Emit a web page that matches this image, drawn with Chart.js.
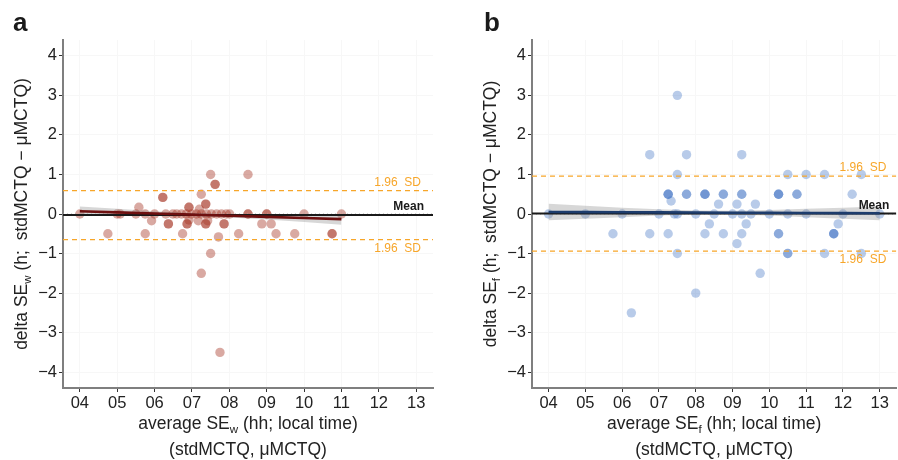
<!DOCTYPE html>
<html>
<head>
<meta charset="utf-8">
<script src="https://cdn.jsdelivr.net/npm/chart.js@4.4.1/dist/chart.umd.min.js"></script>
<style>
    html, body { margin: 0; padding: 0; background: #fff; overflow: hidden; width: 898px; height: 460px; }
    .panel { position: absolute; top: 0; height: 460px; }
    #panelA { left: 0; width: 449px; }
    #panelB { left: 449px; width: 452px; }
</style>
</head>
<body>
<div class="panel" id="panelA"><canvas id="chartA" width="449" height="460"></canvas></div>
<div class="panel" id="panelB"><canvas id="chartB" width="452" height="460"></canvas></div>
<script>
// Eksenler
const xTicks = [4, 5, 6, 7, 8, 9, 10, 11, 12, 13];
const yTicks = [-4, -3, -2, -1, 0, 1, 2, 3, 4];
const xLimits = [3.55, 13.45];
const yLimits = [-4.4, 4.4];

// a: is günleri (SEw)
const weekX = [4, 4.75, 5.0, 5.08, 5.5, 5.58, 5.75, 5.75, 5.92, 6.0, 6.22, 6.22, 6.3, 6.37, 6.37, 6.49, 6.59, 6.72,
    6.75, 6.85, 6.87, 6.87, 6.92, 6.92, 6.92, 6.99, 7.12, 7.17, 7.2, 7.25, 7.25, 7.25, 7.37, 7.37, 7.37, 7.37,
    7.39, 7.42, 7.5, 7.5, 7.52, 7.62, 7.62, 7.66, 7.71, 7.75, 7.79, 7.86, 7.86, 7.92, 8.01, 8.25, 8.5, 8.5, 8.5,
    8.87, 9.0, 9.0, 9.12, 9.25, 9.75, 10.0, 10.75, 10.75, 11.0];
const weekY = [0, -0.5, 0, 0, 0, 0.17, 0, -0.5, -0.17, 0, 0.42, 0.42, 0, -0.25, -0.25, 0, 0, 0,
    -0.5, 0, -0.25, -0.25, 0.17, 0.17, -0.15, 0, 0, -0.17, 0.12, 0, 0.5, -1.5, 0.25, 0.25, -0.25, -0.25,
    0, -0.17, 1, -1, 0, 0.75, 0.75, 0, -0.58, -3.5, 0, -0.25, -0.25, 0, 0, -0.5, 1, 0, 0,
    -0.25, 0, 0, -0.25, -0.5, -0.5, 0, -0.5, -0.5, 0];
const weekFitX = [4, 5, 6, 7, 8, 9, 10, 11];
const weekFitY = [0.07, 0.041, 0.013, -0.016, -0.044, -0.073, -0.101, -0.13];
const weekFitHi = [0.19, 0.13, 0.07, 0.025, -0.002, -0.01, -0.01, -0.01];
const weekFitLo = [-0.05, -0.045, -0.042, -0.055, -0.09, -0.14, -0.2, -0.27];
const weekMean = -0.025;
const weekSd = [0.59, -0.65];

// b: serbest günler (SEf)
const freeX = [4, 5, 5.75, 6, 6.25, 6.75, 6.75, 7, 7.25, 7.25, 7.25, 7.33, 7.25, 7.42, 7.5, 7.5, 7.5, 7.5,
    7.75, 7.75, 7.75, 8, 8, 8.25, 8.25, 8.25, 8.25, 8.37, 8.5, 8.62, 8.75, 8.75, 8.75, 9, 9.12, 9.12,
    9.25, 9.25, 9.25, 9.25, 9.25, 9.37, 9.5, 9.62, 9.75, 10, 10.25, 10.25, 10.25, 10.25, 10.25,
    10.5, 10.5, 10.5, 10.5, 10.75, 10.75, 11, 11, 11.5, 11.5, 11.75, 11.75, 11.75, 11.87, 12, 12.25,
    12.5, 12.5, 13];
const freeY = [0, 0, -0.5, 0, -2.5, 1.5, -0.5, 0, 0.5, 0.5, 0.5, 0.33, -0.5, 0, 3, 1, 0, -1,
    1.5, 0.5, 0.5, 0, -2, 0.5, 0.5, 0.5, -0.5, -0.25, 0, 0.25, 0.5, 0.5, -0.5, 0, 0.25, -0.75,
    1.5, 0.5, 0.5, 0, -0.5, -0.25, 0, 0.25, -1.5, 0, 0.5, 0.5, 0.5, -0.5, -0.5,
    1, 0, -1, -1, 0.5, 0.5, 1, 0, 1, -1, -0.5, -0.5, -0.5, -0.25, 0, 0.5,
    1, -1, 0];
const freeFitX = [4, 5, 6, 7, 8, 9, 10, 11, 12, 13];
const freeFitY = [0.05, 0.047, 0.043, 0.04, 0.037, 0.033, 0.03, 0.027, 0.023, 0.02];
const freeFitHi = [0.26, 0.21, 0.16, 0.12, 0.09, 0.085, 0.1, 0.13, 0.16, 0.19];
const freeFitLo = [-0.16, -0.12, -0.08, -0.04, -0.015, -0.02, -0.04, -0.08, -0.12, -0.16];
const freeMean = 0.01;
const freeSd = [0.96, -0.94];

const FONT = "'Liberation Sans', Arial, Helvetica, sans-serif";

document.addEventListener('DOMContentLoaded', function() {
    createPanel('chartA', {
        letter: 'a', letterX: 13, sub: 'w', yTitleX: 27,
        axisWidth: 63, padRight: 16,
        x: weekX, y: weekY, fitX: weekFitX, fitY: weekFitY, fitHi: weekFitHi, fitLo: weekFitLo,
        mean: weekMean, sd: weekSd,
        pointColor: 'rgba(164, 51, 33, 0.42)', lineColor: '#6e1010',
        sdInset: 12, meanInset: 9
    });
    createPanel('chartB', {
        letter: 'b', letterX: 35, sub: 'f', yTitleX: 47,
        axisWidth: 83, padRight: 0,
        x: freeX, y: freeY, fitX: freeFitX, fitY: freeFitY, fitHi: freeFitHi, fitLo: freeFitLo,
        mean: freeMean, sd: freeSd,
        pointColor: 'rgba(68, 118, 198, 0.38)', lineColor: '#1d3c6c',
        sdInset: 10, meanInset: 7
    });
});

function zip(xs, ys) {
    return xs.map((x, i) => ({ x: x, y: ys[i] }));
}

function flat(value) {
    return zip(xLimits, [value, value]);
}

function lineSet(data, color, width, dash, order) {
    return {
        data: data, showLine: true, pointRadius: 0, borderColor: color,
        borderWidth: width, borderDash: dash, fill: false, order: order
    };
}

function createPanel(id, p) {
    const ctx = document.getElementById(id).getContext('2d');
    const datasets = [
        {
            data: zip(p.x, p.y), pointRadius: 4.7, pointBackgroundColor: p.pointColor,
            pointBorderWidth: 0, showLine: false, order: 9
        },
        {
            data: zip(p.fitX, p.fitHi), showLine: true, pointRadius: 0, borderWidth: 0,
            fill: '+1', backgroundColor: 'rgba(150, 150, 150, 0.38)', order: 8
        },
        { data: zip(p.fitX, p.fitLo), showLine: true, pointRadius: 0, borderWidth: 0, fill: false, order: 8 },
        lineSet(flat(0), '#a8a8a8', 1, [1, 3], 6),
        lineSet(flat(p.mean), '#1a1a1a', 2, [], 5),
        lineSet(flat(p.sd[0]), '#f7a62a', 1.2, [5, 4], 4),
        lineSet(flat(p.sd[1]), '#f7a62a', 1.2, [5, 4], 4),
        lineSet(zip(p.fitX, p.fitY), p.lineColor, 2.6, [], 1)
    ];

    const tickFont = { family: FONT, size: 16.5 };

    new Chart(ctx, {
        type: 'scatter',
        data: { datasets: datasets },
        options: {
            responsive: false,
            animation: false,
            layout: { padding: { top: 40, right: p.padRight, left: 0, bottom: 0 } },
            plugins: { legend: { display: false }, tooltip: { enabled: false } },
            scales: {
                x: {
                    type: 'linear', min: xLimits[0], max: xLimits[1],
                    afterBuildTicks: s => { s.ticks = xTicks.map(v => ({ value: v })); },
                    afterFit: s => { s.height = 72; },
                    ticks: {
                        font: tickFont, color: '#222', padding: 2, maxRotation: 0, autoSkip: false,
                        callback: v => String(v).padStart(2, '0')
                    },
                    grid: { color: '#f7f7f7', tickColor: '#333', tickLength: 4, tickWidth: 1 },
                    border: { color: '#7f7f7f', width: 2 }
                },
                y: {
                    type: 'linear', min: yLimits[0], max: yLimits[1],
                    afterBuildTicks: s => { s.ticks = yTicks.map(v => ({ value: v })); },
                    afterFit: s => { s.width = p.axisWidth; },
                    ticks: {
                        font: tickFont, color: '#222', padding: 2, autoSkip: false,
                        callback: v => (v < 0 ? '\u2212' + Math.abs(v) : String(v))
                    },
                    grid: { color: '#f7f7f7', tickColor: '#333', tickLength: 4, tickWidth: 1 },
                    border: { color: '#7f7f7f', width: 2 }
                }
            }
        },
        plugins: [decorPlugin(p)]
    });
}

// Alt simgeli metin
function drawRichText(ctx, parts, cx, baseline, size) {
    let total = 0;
    parts.forEach(pt => {
        ctx.font = (pt.sub ? size * 0.66 : size) + 'px ' + FONT;
        pt.w = ctx.measureText(pt.t).width;
        total += pt.w;
    });
    let x = cx - total / 2;
    ctx.textAlign = 'left';
    ctx.textBaseline = 'alphabetic';
    parts.forEach(pt => {
        ctx.font = (pt.sub ? size * 0.66 : size) + 'px ' + FONT;
        ctx.fillText(pt.t, x, baseline + (pt.sub ? size * 0.2 : 0));
        x += pt.w;
    });
}

function decorPlugin(p) {
    return {
        id: 'decor',
        afterDraw(chart) {
            const ctx = chart.ctx;
            const area = chart.chartArea;
            const ys = chart.scales.y;
            const cx = (area.left + area.right) / 2;
            ctx.save();
            ctx.fillStyle = '#1a1a1a';

            // panel harfi
            ctx.font = 'bold 26px ' + FONT;
            ctx.textAlign = 'left';
            ctx.textBaseline = 'alphabetic';
            ctx.fillText(p.letter, p.letterX, 31);

            // eksen basliklari
            ctx.fillStyle = '#222';
            drawRichText(ctx, [{ t: 'average SE' }, { t: p.sub, sub: true }, { t: ' (hh; local time)' }], cx, 429, 17.5);
            drawRichText(ctx, [{ t: '(stdMCTQ, \u03bcMCTQ)' }], cx, 455, 17.5);

            ctx.save();
            ctx.translate(p.yTitleX, (area.top + area.bottom) / 2);
            ctx.rotate(-Math.PI / 2);
            drawRichText(ctx, [{ t: 'delta SE' }, { t: p.sub, sub: true }, { t: ' (h;  stdMCTQ \u2212 \u03bcMCTQ)' }], 0, 0, 17.5);
            ctx.restore();

            // referans etiketleri
            ctx.textAlign = 'right';
            ctx.textBaseline = 'middle';
            ctx.font = '12px ' + FONT;
            ctx.fillStyle = '#f7a62a';
            ctx.fillText('1.96  SD', area.right - p.sdInset, ys.getPixelForValue(p.sd[0]) - 8);
            ctx.fillText('1.96  SD', area.right - p.sdInset, ys.getPixelForValue(p.sd[1]) + 9);
            ctx.font = 'bold 12px ' + FONT;
            ctx.fillStyle = '#1a1a1a';
            ctx.fillText('Mean', area.right - p.meanInset, ys.getPixelForValue(p.mean) - 8);
            ctx.restore();
        }
    };
}
</script>
</body>
</html>
